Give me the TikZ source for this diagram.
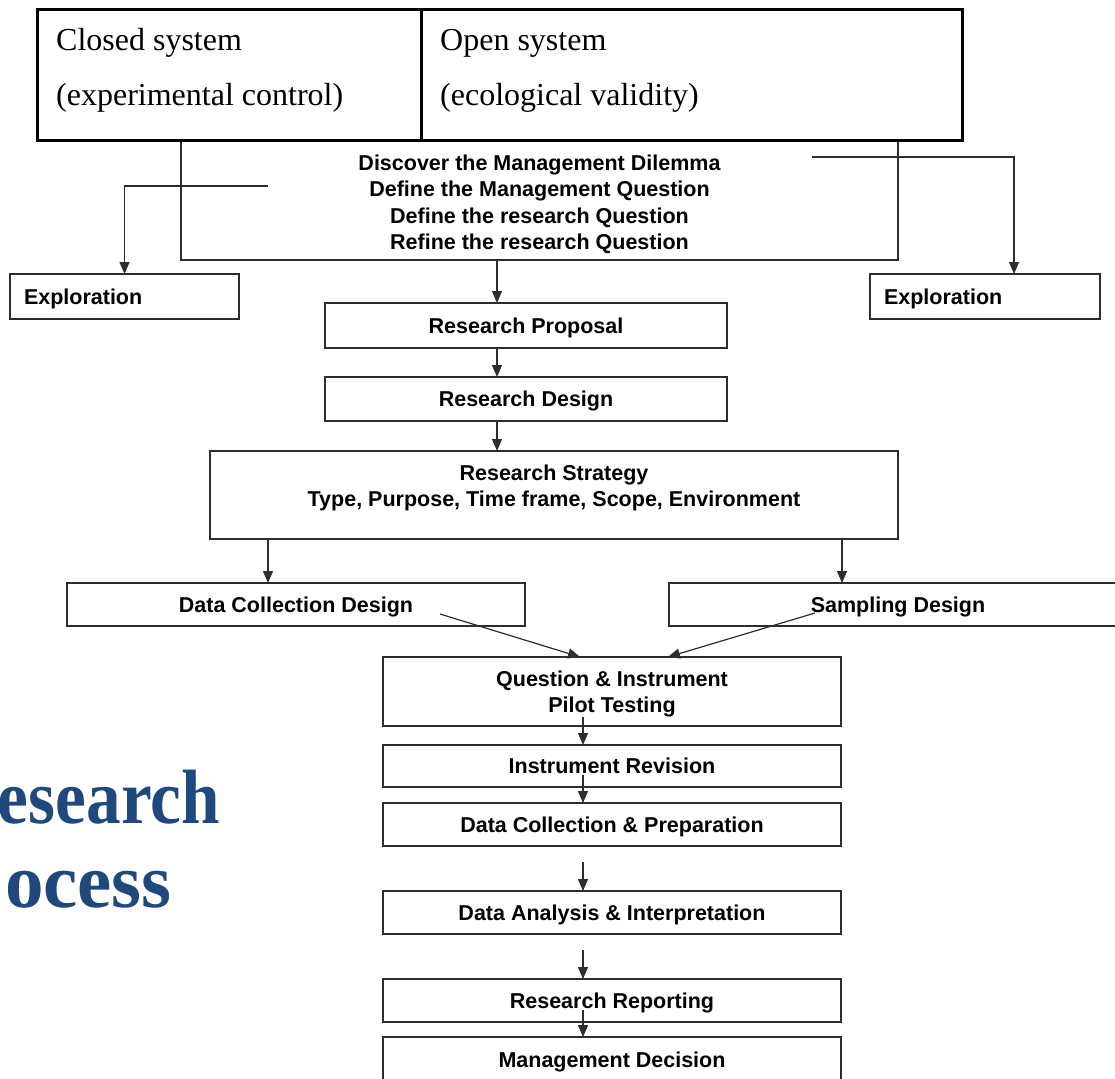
\documentclass[tikz,border=0pt]{standalone}
\usepackage{fontspec}
\newfontfamily\arialf{Liberation Sans}
\newfontfamily\timesf{Liberation Serif}
\usetikzlibrary{arrows.meta,calc}
\definecolor{titleblue}{RGB}{31,73,125}
\definecolor{lncol}{RGB}{45,45,45}
\begin{document}
\begin{tikzpicture}[x=1pt,y=-1pt,
 box/.style={draw=lncol, line width=1.3pt, rectangle, inner sep=0pt, outer sep=0pt, text depth=0pt, font=\arialf\bfseries\fontsize{21.5}{26.5}\selectfont, align=center},
 lbl/.style={inner sep=0pt, outer sep=0pt, font=\arialf\bfseries\fontsize{21.5}{26.5}\selectfont, align=center},
 arr/.style={draw=lncol, line width=1.2pt, -{Triangle[length=12pt,width=10pt]}},
 tbl/.style={draw=black, line width=3pt, rectangle, inner sep=0pt, outer sep=0pt},
 tt/.style={font=\timesf\fontsize{32}{36}\selectfont, anchor=base west, inner sep=0pt},
 ttl/.style={font=\timesf\bfseries\fontsize{77}{84}\selectfont, text=titleblue, anchor=base east, inner sep=0pt}]
\useasboundingbox (0,0) rectangle (1115,1078);
\clip (0,0) rectangle (1115,1078);

% title
\node[ttl, xscale=0.9] (t1) at (220,823) {esearch};
\node[ttl] (t2) at (172,907) {ocess};

% main question box
\node[box, minimum width=717pt, minimum height=119pt] (disc) at (539.5,200.5) {};
\node[lbl] (disct) at (539.5,204.5)
  {Discover the Management Dilemma\\Define the Management Question\\Define the research Question\\Refine the research Question};

% top table
\node[tbl, minimum width=384pt, minimum height=131pt, fill=white] (closed) at (229,75.5) {};
\node[tbl, minimum width=541pt, minimum height=131pt, fill=white] (open) at (691.5,75.5) {};
\node[tt] (cl1) at (56,51) {Closed system};
\node[tt] (cl2) at (56,106) {(experimental control)};
\node[tt] (op1) at (440,51) {Open system};
\node[tt] (op2) at (440,106) {(ecological validity)};

% exploration boxes
\node[box, minimum width=229pt, minimum height=45pt, text width=201pt, align=left] (exL) at (124.5,296.5) {Exploration};
\node[box, minimum width=230pt, minimum height=45pt, text width=202pt, align=left] (exR) at (985,296.5) {Exploration};

% flow boxes
\node[box, minimum width=402pt, minimum height=45pt] (rp) at (526,325.5) {Research Proposal};
\node[box, minimum width=402pt, minimum height=44pt] (rd) at (526,399) {Research Design};
\node[box, minimum width=688pt, minimum height=88pt] (rs) at (554,495) {};
\node[lbl] (rst) at (554,488) {Research Strategy\\Type, Purpose, Time frame, Scope, Environment};
\node[box, minimum width=458pt, minimum height=43pt] (dcd) at (296,604.5) {Data Collection Design};
\node[box, minimum width=458pt, minimum height=43pt] (sd) at (898,604.5) {Sampling Design};
\node[box, minimum width=458pt, minimum height=69pt] (qi) at (612,691.5) {Question \& Instrument\\Pilot Testing};
\node[box, minimum width=458pt, minimum height=42pt] (ir) at (612,766) {Instrument Revision};
\node[box, minimum width=458pt, minimum height=43pt] (dcp) at (612,824.5) {Data Collection \& Preparation};
\node[box, minimum width=458pt, minimum height=43pt] (da) at (612,912.5) {Data Analysis \& Interpretation};
\node[box, minimum width=458pt, minimum height=43pt] (rr) at (612,1000.5) {Research Reporting};
\node[box, minimum width=458pt, minimum height=46pt] (md) at (612,1060) {Management Decision};

% helper columns and free ends
\coordinate (c1) at (497,0);
\coordinate (c2) at (583,0);
\coordinate (c3) at (268,0);
\coordinate (c4) at (842,0);
\coordinate (c5) at (580,0);
\coordinate (c6) at (668,0);
\coordinate (dL) at (268,186);
\coordinate (dR) at (812,157);
\coordinate (dcdS) at (440,614);
\coordinate (sdS) at (815,613);
\coordinate (q1) at (583,717);
\coordinate (q2) at (583,775);
\coordinate (q3) at (583,862);
\coordinate (q4) at (583,950);
\coordinate (q5) at (583,1010);

% connectors
\draw[arr] (dL) -| (exL.north);
\draw[arr] (dR) -| ([xshift=29pt]exR.north);
\draw[arr] (disc.south -| c1) -- (rp.north -| c1);
\draw[arr] (rp.south -| c1) -- (rd.north -| c1);
\draw[arr] (rd.south -| c1) -- (rs.north -| c1);
\draw[arr] (rs.south -| c3) -- (dcd.north -| c3);
\draw[arr] (rs.south -| c4) -- (sd.north -| c4);
\draw[arr] (dcdS) -- (qi.north -| c5);
\draw[arr] (sdS) -- (qi.north -| c6);
\draw[arr] (q1) -- (ir.north -| c2);
\draw[arr] (q2) -- (dcp.north -| c2);
\draw[arr] (q3) -- (da.north -| c2);
\draw[arr] (q4) -- (rr.north -| c2);
\draw[arr] (q5) -- (md.north -| c2);
\end{tikzpicture}
\end{document}
